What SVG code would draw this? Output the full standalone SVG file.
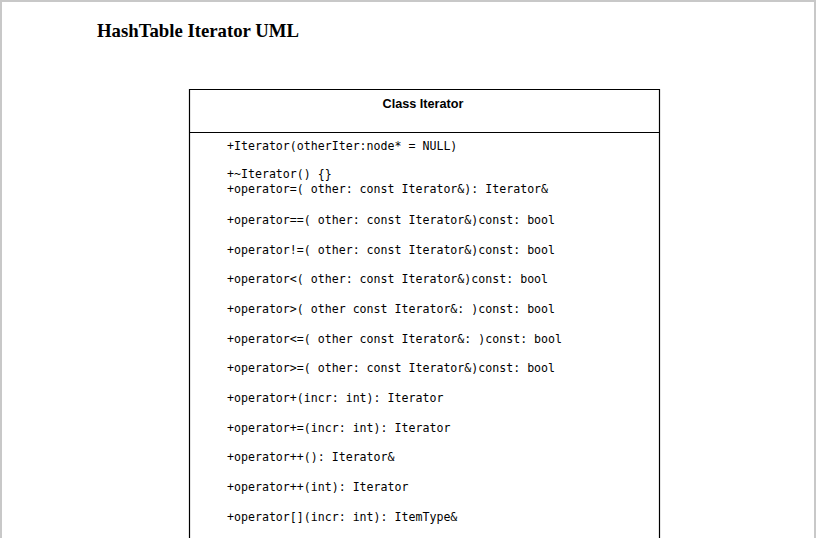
<svg xmlns="http://www.w3.org/2000/svg" width="816" height="538" viewBox="0 0 816 538">
<style>
.m{font-family:"DejaVu Sans Mono","Liberation Mono",monospace;font-size:11.6px;fill:#000}
.t{font-family:"Liberation Serif","Times New Roman",serif;font-weight:bold;font-size:19px;fill:#000}
.h{font-family:"Liberation Sans",Arial,sans-serif;font-weight:bold;font-size:12px;fill:#000}
</style>
<rect x="0" y="0" width="816" height="538" fill="#fff"/>
<g id="page" fill="none" stroke="#c8c8c8" stroke-width="2">
<line x1="0" y1="1" x2="816" y2="1"/>
<line x1="1" y1="0" x2="1" y2="538"/>
<line x1="815" y1="0" x2="815" y2="538"/>
</g>
<text id="title" class="t" x="97" y="37" textLength="202" lengthAdjust="spacingAndGlyphs">HashTable Iterator UML</text>
<g id="class-iterator">
<path d="M189.5 545 V89.5 H659.5 V545 M189.5 132.5 H659.5" fill="none" stroke="#000" stroke-width="1.2"/>
<text class="h" x="423" y="108" text-anchor="middle" textLength="81" lengthAdjust="spacingAndGlyphs">Class Iterator</text>
<text class="m" x="227" y="150">+Iterator(otherIter:node* = NULL)</text>
<text class="m" x="227" y="178">+~Iterator() {}</text>
<text class="m" x="227" y="193">+operator=( other: const Iterator&amp;): Iterator&amp;</text>
<text class="m" x="227" y="224">+operator==( other: const Iterator&amp;)const: bool</text>
<text class="m" x="227" y="254">+operator!=( other: const Iterator&amp;)const: bool</text>
<text class="m" x="227" y="283">+operator&lt;( other: const Iterator&amp;)const: bool</text>
<text class="m" x="227" y="313">+operator&gt;( other const Iterator&amp;: )const: bool</text>
<text class="m" x="227" y="343">+operator&lt;=( other const Iterator&amp;: )const: bool</text>
<text class="m" x="227" y="372">+operator&gt;=( other: const Iterator&amp;)const: bool</text>
<text class="m" x="227" y="402">+operator+(incr: int): Iterator</text>
<text class="m" x="227" y="432">+operator+=(incr: int): Iterator</text>
<text class="m" x="227" y="461">+operator++(): Iterator&amp;</text>
<text class="m" x="227" y="491">+operator++(int): Iterator</text>
<text class="m" x="227" y="521">+operator[](incr: int): ItemType&amp;</text>
</g>
</svg>
